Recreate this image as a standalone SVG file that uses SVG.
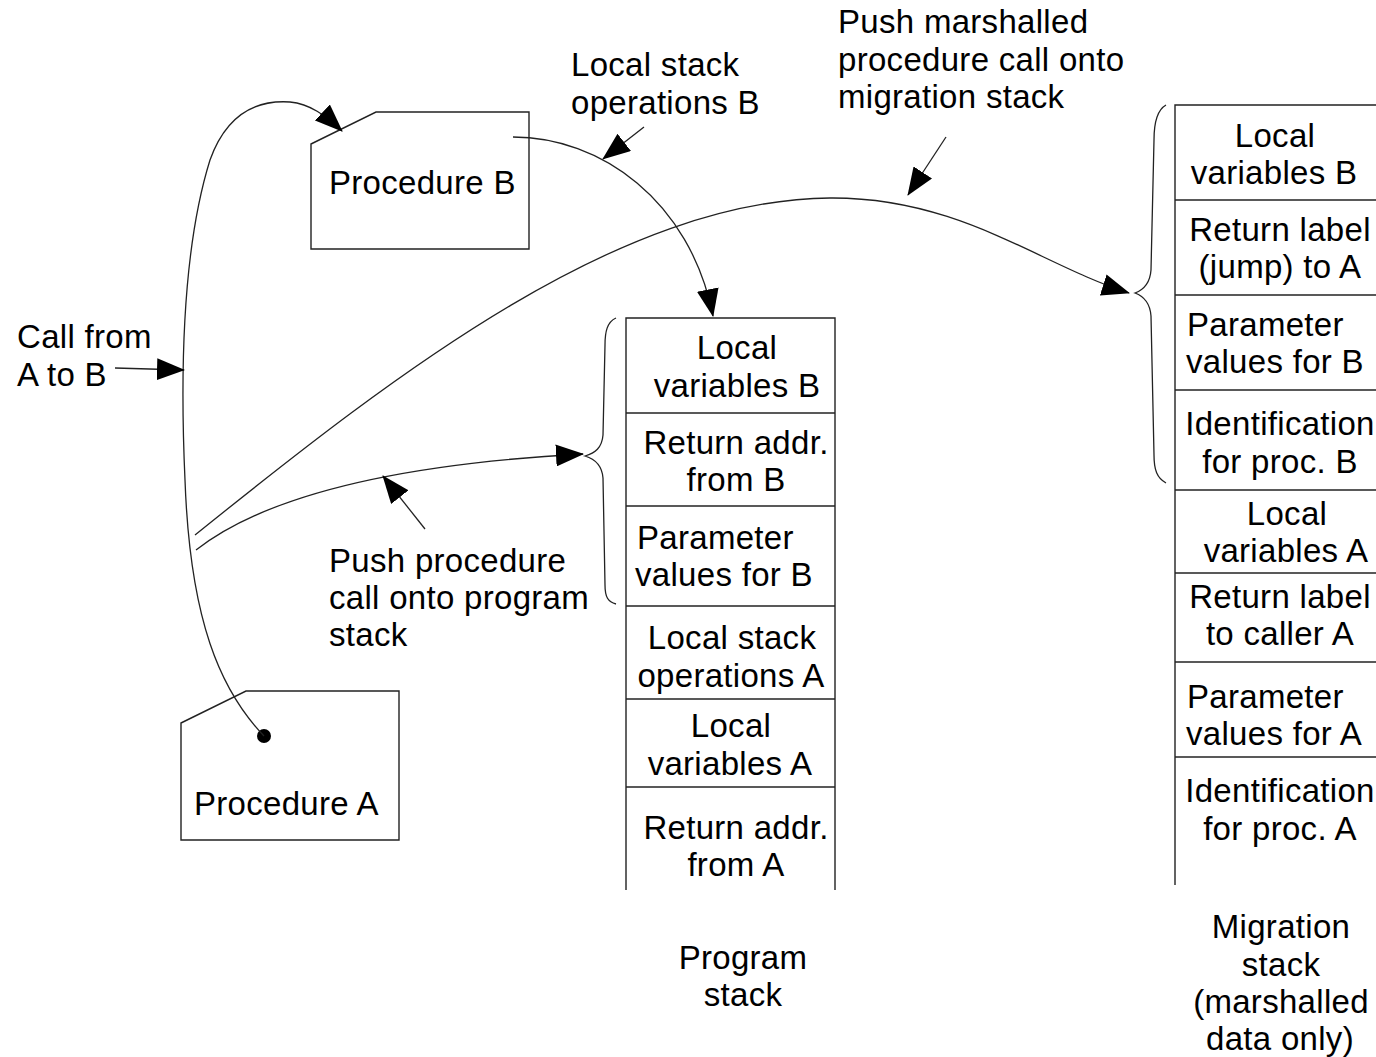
<svg xmlns="http://www.w3.org/2000/svg" width="1376" height="1057" viewBox="0 0 1376 1057">
  <style>
    text { font-family: "Liberation Sans", Arial, sans-serif; font-size: 33px; letter-spacing: 0.3px; fill: #000; }
    .mid { text-anchor: middle; }
    .box { fill: none; stroke: #222; stroke-width: 1.4; }
    .wire { fill: none; stroke: #222; stroke-width: 1.3; }
  </style>
  <defs>
    <marker id="head" markerUnits="userSpaceOnUse" markerWidth="28" markerHeight="22" refX="27" refY="11" orient="auto">
      <path d="M0,0 L28,11 L0,22 Z" fill="#000"/>
    </marker>
  </defs>

  <rect width="1376" height="1057" fill="#fff"/>

  <!-- Procedure B -->
  <g id="procedure-b">
    <path class="box" d="M311,144 L376,112 L529,112 L529,249 L311,249 Z"/>
    <text x="329" y="194">Procedure B</text>
  </g>

  <!-- Procedure A -->
  <g id="procedure-a">
    <path class="box" d="M181,723 L246,691 L399,691 L399,840 L181,840 Z"/>
    <text x="194" y="815">Procedure A</text>
  </g>

  <!-- Program stack -->
  <g id="program-stack">
    <path class="box" d="M626,890 L626,318 L835,318 L835,890"/>
    <line class="box" x1="626" y1="413" x2="835" y2="413"/>
    <line class="box" x1="626" y1="506" x2="835" y2="506"/>
    <line class="box" x1="626" y1="606" x2="835" y2="606"/>
    <line class="box" x1="626" y1="699" x2="835" y2="699"/>
    <line class="box" x1="626" y1="787" x2="835" y2="787"/>
    <text class="mid" x="737" y="359">Local</text>
    <text class="mid" x="737" y="397">variables B</text>
    <text class="mid" x="736" y="454">Return addr.</text>
    <text class="mid" x="736" y="491">from B</text>
    <text x="637" y="549">Parameter</text>
    <text x="635" y="586">values for B</text>
    <text class="mid" x="732" y="649">Local stack</text>
    <text class="mid" x="731" y="687">operations A</text>
    <text class="mid" x="731" y="737">Local</text>
    <text class="mid" x="730" y="775">variables A</text>
    <text class="mid" x="736" y="839">Return addr.</text>
    <text class="mid" x="736" y="876">from A</text>
    <text class="mid" x="743" y="969">Program</text>
    <text class="mid" x="743" y="1006">stack</text>
    <!-- brace grouping the frame for B -->
    <path class="wire" d="M616,318 C607,322 605,332 605,345 L603,435 C602,448 595,453 585,456 C595,459 602,465 603,478 L605,585 C605,597 608,602 616,604"/>
  </g>

  <!-- Migration stack -->
  <g id="migration-stack">
    <path class="box" d="M1175,885 L1175,105 L1376,105"/>
    <line class="box" x1="1175" y1="200" x2="1376" y2="200"/>
    <line class="box" x1="1175" y1="295" x2="1376" y2="295"/>
    <line class="box" x1="1175" y1="390" x2="1376" y2="390"/>
    <line class="box" x1="1175" y1="490" x2="1376" y2="490"/>
    <line class="box" x1="1175" y1="573" x2="1376" y2="573"/>
    <line class="box" x1="1175" y1="662" x2="1376" y2="662"/>
    <line class="box" x1="1175" y1="757" x2="1376" y2="757"/>
    <text class="mid" x="1275" y="147">Local</text>
    <text class="mid" x="1274" y="184">variables B</text>
    <text class="mid" x="1280" y="241">Return label</text>
    <text class="mid" x="1280" y="278">(jump) to A</text>
    <text x="1187" y="336">Parameter</text>
    <text x="1186" y="373">values for B</text>
    <text class="mid" x="1280" y="435">Identification</text>
    <text class="mid" x="1280" y="473">for proc. B</text>
    <text class="mid" x="1287" y="525">Local</text>
    <text class="mid" x="1286" y="562">variables A</text>
    <text class="mid" x="1280" y="608">Return label</text>
    <text class="mid" x="1280" y="645">to caller A</text>
    <text x="1187" y="708">Parameter</text>
    <text x="1186" y="745">values for A</text>
    <text class="mid" x="1280" y="802">Identification</text>
    <text class="mid" x="1280" y="840">for proc. A</text>
    <text class="mid" x="1281" y="938">Migration</text>
    <text class="mid" x="1281" y="976">stack</text>
    <text class="mid" x="1281" y="1013">(marshalled</text>
    <text class="mid" x="1280" y="1050">data only)</text>
    <!-- brace grouping the marshalled frame for B -->
    <path class="wire" d="M1166,105 C1157,110 1154,125 1154,140 L1151,270 C1150,284 1143,290 1135,293 C1143,296 1150,302 1151,316 L1154,455 C1154,470 1157,478 1166,483"/>
  </g>

  <!-- Free labels -->
  <g id="labels">
    <text x="838" y="33">Push marshalled</text>
    <text x="838" y="71">procedure call onto</text>
    <text x="838" y="108">migration stack</text>
    <text x="571" y="76">Local stack</text>
    <text x="571" y="114">operations B</text>
    <text x="17" y="348">Call from</text>
    <text x="17" y="386">A to B</text>
    <text x="329" y="572">Push procedure</text>
    <text x="329" y="609">call onto program</text>
    <text x="329" y="646">stack</text>
  </g>

  <!-- Connectors -->
  <g id="connectors">
    <!-- call from A to B -->
    <circle cx="264" cy="736" r="7" fill="#000"/>
    <path class="wire" marker-end="url(#head)" d="M264,736 C220,690 190,620 185,480 C180,370 182,250 210,160 C228,110 260,100 290,102 C310,104 325,115 342,131"/>
    <!-- local stack operations of B onto program stack -->
    <path class="wire" marker-end="url(#head)" d="M513,137 C600,137 690,200 713,316"/>
    <!-- push onto migration stack -->
    <path class="wire" marker-end="url(#head)" d="M195,535 C400,370 620,200 830,198 C960,197 1040,265 1129,293"/>
    <!-- push onto program stack -->
    <path class="wire" marker-end="url(#head)" d="M196,550 C260,500 380,465 583,454"/>
    <!-- label pointers -->
    <line class="wire" marker-end="url(#head)" x1="115" y1="368" x2="184" y2="370"/>
    <line class="wire" marker-end="url(#head)" x1="425" y1="529" x2="383" y2="476"/>
    <line class="wire" marker-end="url(#head)" x1="644" y1="127" x2="603" y2="159"/>
    <line class="wire" marker-end="url(#head)" x1="946" y1="137" x2="908" y2="195"/>
  </g>
</svg>
